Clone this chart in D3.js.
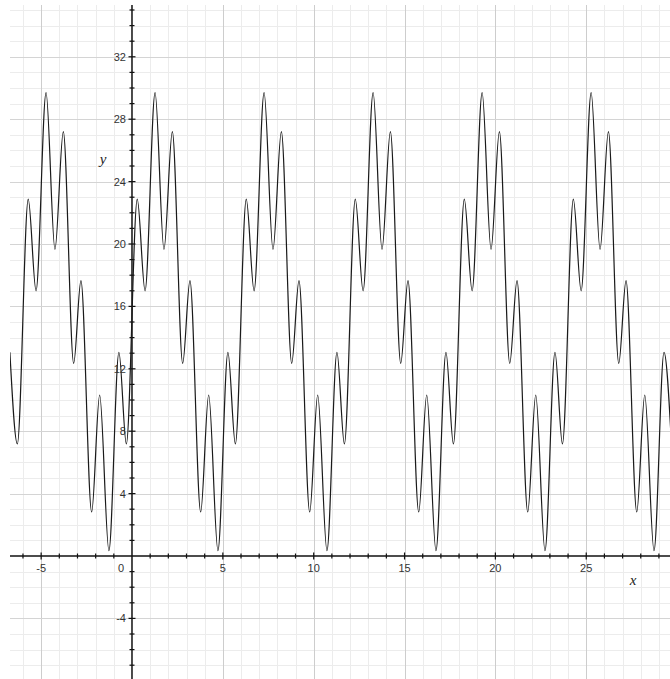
<!DOCTYPE html>
<html>
<head>
<meta charset="utf-8">
<script src="https://cdn.jsdelivr.net/npm/d3@7/dist/d3.min.js"></script>
<style>
  html, body { margin: 0; padding: 0; background: #ffffff; }
  svg { display: block; }
</style>
</head>
<body>
<script>
// Extrema of the plotted curve (x, y)
const curveX = [
  -6.72, -6.31, -5.71, -5.28, -4.73, -4.24, -3.78, -3.21, -2.81, -2.22, -1.78, -1.27,
  -0.72, -0.31, 0.29, 0.72, 1.27, 1.76, 2.22, 2.79, 3.19, 3.78, 4.22, 4.73,
  5.28, 5.69, 6.29, 6.72, 7.27, 7.76, 8.22, 8.79, 9.19, 9.78, 10.22, 10.73,
  11.28, 11.69, 12.29, 12.72, 13.27, 13.76, 14.22, 14.79, 15.19, 15.78, 16.22, 16.73,
  17.28, 17.69, 18.29, 18.72, 19.27, 19.76, 20.22, 20.79, 21.19, 21.78, 22.22, 22.73,
  23.28, 23.69, 24.29, 24.72, 25.27, 25.76, 26.22, 26.79, 27.19, 27.78, 28.22, 28.73,
  29.28, 29.69
];
const curveY = [
  13.06, 7.18, 22.87, 17.0, 29.7, 19.66, 27.2, 12.35, 17.65, 2.82, 10.32, 0.34,
  13.06, 7.18, 22.87, 17.0, 29.7, 19.66, 27.2, 12.35, 17.65, 2.82, 10.32, 0.34,
  13.06, 7.18, 22.87, 17.0, 29.7, 19.66, 27.2, 12.35, 17.65, 2.82, 10.32, 0.34,
  13.06, 7.18, 22.87, 17.0, 29.7, 19.66, 27.2, 12.35, 17.65, 2.82, 10.32, 0.34,
  13.06, 7.18, 22.87, 17.0, 29.7, 19.66, 27.2, 12.35, 17.65, 2.82, 10.32, 0.34,
  13.06, 7.18, 22.87, 17.0, 29.7, 19.66, 27.2, 12.35, 17.65, 2.82, 10.32, 0.34,
  13.06, 7.18
];
const xTickLabels = [-5, 0, 5, 10, 15, 20, 25];
const yTickLabels = [32, 28, 24, 20, 16, 12, 8, 4, -4];
const xDomain = [-6.714, 29.61];
const yDomain = [35.32, -7.885];

const W = 670, H = 679;
const svg = d3.select("body").append("svg").attr("width", W).attr("height", H);

const x = d3.scaleLinear().domain(xDomain).range([10, 670]);
const y = d3.scaleLinear().domain(yDomain).range([5, 679]);

const xInts = d3.range(Math.ceil(xDomain[0]), Math.floor(xDomain[1]) + 1);
const yInts = d3.range(Math.ceil(yDomain[1]), Math.floor(yDomain[0]) + 1);

const grid = svg.append("g").attr("shape-rendering", "crispEdges");
// minor grid
grid.selectAll(".vmin").data(xInts.filter(d => d % 5 !== 0)).enter().append("line")
  .attr("x1", d => Math.round(x(d)) + 0.5).attr("x2", d => Math.round(x(d)) + 0.5)
  .attr("y1", 5).attr("y2", H).attr("stroke", "#ececec").attr("stroke-width", 1);
grid.selectAll(".hmin").data(yInts.filter(d => d % 4 !== 0)).enter().append("line")
  .attr("y1", d => Math.round(y(d)) + 0.5).attr("y2", d => Math.round(y(d)) + 0.5)
  .attr("x1", 10).attr("x2", W).attr("stroke", "#ececec").attr("stroke-width", 1);
// major grid
grid.selectAll(".vmaj").data(xInts.filter(d => d % 5 === 0 && d !== 0)).enter().append("line")
  .attr("x1", d => Math.round(x(d)) + 0.5).attr("x2", d => Math.round(x(d)) + 0.5)
  .attr("y1", 5).attr("y2", H).attr("stroke", "#cdcdcd").attr("stroke-width", 1);
grid.selectAll(".hmaj").data(yInts.filter(d => d % 4 === 0 && d !== 0)).enter().append("line")
  .attr("y1", d => Math.round(y(d)) + 0.5).attr("y2", d => Math.round(y(d)) + 0.5)
  .attr("x1", 10).attr("x2", W).attr("stroke", "#d4d4d4").attr("stroke-width", 1);

// axes
const ax = svg.append("g");
const x0 = x(0), y0 = y(0);
ax.append("line").attr("x1", 10).attr("x2", W).attr("y1", y0).attr("y2", y0)
  .attr("stroke", "#111").attr("stroke-width", 1.5);
ax.append("line").attr("x1", x0).attr("x2", x0).attr("y1", 5).attr("y2", H)
  .attr("stroke", "#111").attr("stroke-width", 1.5);
// x ticks
ax.selectAll(".xt").data(xInts.filter(d => d !== 0)).enter().append("line")
  .attr("x1", d => x(d)).attr("x2", d => x(d))
  .attr("y1", d => y0 - (d % 5 === 0 ? 3.5 : 2.5))
  .attr("y2", d => y0 + (d % 5 === 0 ? 3.5 : 2.5))
  .attr("stroke", "#111").attr("stroke-width", 1.2);
// y ticks
ax.selectAll(".yt").data(yInts.filter(d => d !== 0)).enter().append("line")
  .attr("y1", d => y(d)).attr("y2", d => y(d))
  .attr("x1", d => x0 - (d % 4 === 0 ? 3.5 : 2.5))
  .attr("x2", d => x0 + (d % 4 === 0 ? 3.5 : 2.5))
  .attr("stroke", "#111").attr("stroke-width", 1.2);

// curve
const pts = curveX.map((d, i) => [d, curveY[i]]);
svg.append("clipPath").attr("id", "clip").append("rect")
  .attr("x", 10).attr("y", 5).attr("width", W - 10).attr("height", H - 5);
svg.append("path")
  .datum(pts)
  .attr("clip-path", "url(#clip)")
  .attr("fill", "none")
  .attr("stroke", "#1a1a1a")
  .attr("stroke-width", 1.2)
  .attr("d", d3.line().x(d => x(d[0])).y(d => y(d[1])).curve(d3.curveMonotoneX));

// tick labels
const lab = svg.append("g").attr("font-family", "Liberation Sans, Arial, Helvetica, sans-serif")
  .attr("font-size", 11).attr("fill", "#333");
lab.selectAll(".xl").data(xTickLabels).enter().append("text")
  .attr("x", d => d === 0 ? x0 - 11 : x(d))
  .attr("y", y0 + 16)
  .attr("text-anchor", "middle")
  .text(d => d);
lab.selectAll(".yl").data(yTickLabels).enter().append("text")
  .attr("x", x0 - 6)
  .attr("y", d => y(d) + 4)
  .attr("text-anchor", "end")
  .text(d => d);

// axis names
const nm = svg.append("g").attr("font-family", "Liberation Serif, Times New Roman, serif")
  .attr("font-style", "italic").attr("font-size", 15).attr("fill", "#222");
nm.append("text").attr("x", 103).attr("y", 164).attr("text-anchor", "middle").text("y");
nm.append("text").attr("x", 633).attr("y", 585).attr("text-anchor", "middle").text("x");
</script>
</body>
</html>
